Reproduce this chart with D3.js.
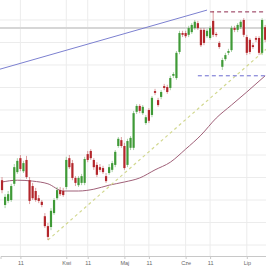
<!DOCTYPE html>
<html>
<head>
<meta charset="utf-8">
<script src="https://cdn.jsdelivr.net/npm/d3@7"></script>
<style>
  body { margin: 0; background: #fff; }
  svg { display: block; font-family: "DejaVu Sans", sans-serif; }
</style>
</head>
<body>
<div id="chart"></div>
<script>
// daily candles, oldest first: [open, high, low, close]
var candles = [
  [54.4, 55.1, 51.5, 52.2], [48.9, 51.3, 48.2, 50.7], [49.8, 52.0, 49.3, 51.3], [50.0, 53.6, 49.6, 53.1],
  [53.6, 58.0, 53.1, 57.3], [56.2, 59.3, 55.8, 58.7], [59.3, 60.0, 56.4, 56.9], [56.4, 58.7, 56.0, 58.2],
  [58.9, 59.8, 54.7, 55.1], [54.4, 55.1, 49.1, 49.8], [53.1, 53.8, 50.0, 50.4], [52.0, 52.7, 49.6, 50.0],
  [50.4, 51.1, 49.3, 49.8], [49.6, 50.0, 48.4, 48.9], [46.4, 47.1, 43.8, 44.2], [44.2, 44.9, 41.1, 41.8],
  [44.0, 48.2, 43.3, 47.6], [47.1, 50.4, 46.7, 50.0], [50.4, 52.9, 50.0, 52.2], [52.2, 52.9, 50.9, 51.3],
  [52.0, 52.7, 50.7, 51.1], [52.9, 59.6, 52.4, 58.9], [59.3, 60.0, 56.9, 57.3], [58.2, 58.9, 54.4, 54.9],
  [54.9, 55.3, 53.1, 53.8], [53.3, 55.3, 52.9, 54.9], [53.8, 55.8, 53.3, 55.3], [53.8, 59.6, 53.3, 59.1],
  [60.2, 60.9, 58.4, 58.9], [60.9, 61.3, 58.9, 59.3], [58.9, 59.3, 56.7, 57.3], [57.8, 58.4, 55.1, 55.6],
  [57.3, 58.0, 56.2, 56.7], [57.1, 57.6, 55.8, 56.2], [55.3, 56.0, 53.8, 54.2], [56.0, 58.0, 55.6, 57.3],
  [56.7, 58.7, 56.2, 58.2], [57.8, 61.1, 57.3, 60.7], [62.0, 64.0, 61.6, 63.6], [63.3, 64.0, 61.6, 62.0],
  [62.0, 62.7, 56.7, 57.1], [57.8, 63.6, 57.3, 63.1], [61.6, 64.2, 61.1, 63.8], [61.6, 69.8, 61.1, 69.3],
  [69.6, 71.3, 69.1, 70.9], [70.9, 71.3, 69.3, 69.8], [69.3, 71.1, 68.9, 70.7], [67.1, 68.9, 66.7, 68.4],
  [70.0, 70.4, 67.1, 67.6], [68.9, 73.1, 68.4, 72.7], [74.2, 74.7, 73.3, 73.8], [72.2, 72.7, 70.7, 71.1],
  [72.9, 74.4, 72.4, 74.0], [75.3, 75.8, 74.4, 74.9], [75.1, 75.6, 73.6, 74.0], [74.9, 77.6, 74.4, 77.1],
  [77.6, 78.4, 77.1, 78.0], [77.1, 83.1, 76.7, 82.7], [82.9, 87.6, 82.4, 87.1], [87.1, 87.6, 86.2, 86.7],
  [87.1, 87.6, 86.0, 86.4], [86.7, 88.7, 86.2, 88.2], [87.3, 89.3, 86.9, 88.9], [88.2, 90.0, 87.8, 89.6],
  [89.3, 89.8, 87.8, 88.2], [87.8, 88.2, 84.0, 84.4], [87.8, 88.2, 84.4, 84.9], [86.4, 88.0, 86.0, 87.6],
  [86.0, 88.7, 85.6, 88.2], [89.8, 92.0, 86.2, 86.7], [86.9, 87.3, 86.2, 86.7], [84.9, 85.3, 83.6, 84.0],
  [79.6, 81.6, 78.9, 81.1], [81.3, 82.7, 80.9, 82.2], [82.7, 83.6, 82.2, 83.1], [83.3, 88.7, 82.9, 88.2],
  [88.2, 88.7, 87.3, 87.8], [87.8, 89.3, 87.3, 88.9], [88.4, 90.0, 88.0, 89.6], [90.0, 90.4, 86.2, 86.7],
  [86.2, 86.7, 82.2, 82.7], [85.6, 86.0, 82.4, 82.9], [84.4, 84.9, 83.6, 84.0], [86.0, 86.4, 85.1, 85.6],
  [86.0, 86.4, 82.2, 82.7], [82.7, 90.4, 82.2, 90.0], [88.4, 88.9, 85.1, 85.6]
];

// x axis: candle index of each label
var tickIdx = [6, 21, 28, 40, 48, 60, 68, 80];
var tickLabels = ["11", "Kwi", "11", "Maj", "11", "Cze", "11", "Lip"];

// moving average
var maIdx = [0, 5, 10, 15, 20, 25, 30, 35, 40, 45, 50, 55, 60, 65, 70, 75, 80, 86];
var maVals = [54.0, 54.4, 54.2, 53.6, 52.0, 52.0, 52.4, 53.3, 54.0, 54.9, 56.7, 58.4, 61.3, 64.4, 68.2, 71.1, 74.0, 77.6];

// horizontal levels
var grayLevel = 88.2;
var topLevel = 91.8, topFrom = 68;
var lowLevel = 77.6, lowFrom = 64;

// trend lines: two anchor points each
var channelLine = { i1: 0, p1: 79.2, i2: 67, p2: 92.2 };
var supportLine = { i1: 15, p1: 41.1, i2: 67.3, p2: 72.2 };

var W = 266, H = 266, plotBottom = 256;

var svg = d3.select("#chart").append("svg")
  .attr("width", W)
  .attr("height", H);

var x = d3.scaleLinear()
  .domain([-0.5, candles.length - 0.5])
  .range([0.5, W + 0.7]);

var y = d3.scaleLinear()
  .domain([37.56, 94.44])
  .range([plotBottom, 0]);

svg.append("clipPath").attr("id", "plot")
  .append("rect").attr("width", W).attr("height", plotBottom);

var plot = svg.append("g").attr("clip-path", "url(#plot)");

// grid
plot.selectAll(".hgrid").data(y.ticks(10)).enter().append("line")
  .attr("x1", 0).attr("x2", W)
  .attr("y1", function(d) { return y(d); })
  .attr("y2", function(d) { return y(d); })
  .attr("stroke", "#ececec");

plot.selectAll(".vgrid").data(tickIdx).enter().append("line")
  .attr("x1", function(d) { return x(d); })
  .attr("x2", function(d) { return x(d); })
  .attr("y1", 0).attr("y2", plotBottom)
  .attr("stroke", "#ececec");

plot.append("line")
  .attr("x1", 0).attr("x2", W)
  .attr("y1", y(grayLevel)).attr("y2", y(grayLevel))
  .attr("stroke", "#d6d6d6").attr("stroke-width", 2);

// moving average
var maLine = d3.line()
  .x(function(d) { return x(d); })
  .y(function(d, k) { return y(maVals[k]); })
  .curve(d3.curveMonotoneX);

plot.append("path")
  .attr("d", maLine(maIdx))
  .attr("fill", "none")
  .attr("stroke", "#a06078")
  .attr("stroke-width", 1);

function along(t, i) {
  return t.p1 + (i - t.i1) * (t.p2 - t.p1) / (t.i2 - t.i1);
}

var left = x.invert(0), right = x.invert(W);

plot.append("line")
  .attr("x1", x(supportLine.i1)).attr("y1", y(supportLine.p1))
  .attr("x2", W).attr("y2", y(along(supportLine, right)))
  .attr("stroke", "#d2d890").attr("stroke-width", 1.2)
  .attr("stroke-dasharray", "3,3");

plot.append("line")
  .attr("x1", 0).attr("y1", y(along(channelLine, left)))
  .attr("x2", x(channelLine.i2)).attr("y2", y(channelLine.p2))
  .attr("stroke", "#7c80d0").attr("stroke-width", 1);

plot.append("line")
  .attr("x1", x(topFrom)).attr("x2", W)
  .attr("y1", y(topLevel)).attr("y2", y(topLevel))
  .attr("stroke", "#8e2a4e").attr("stroke-width", 1)
  .attr("stroke-dasharray", "4,3");

plot.append("line")
  .attr("x1", x(lowFrom)).attr("x2", W)
  .attr("y1", y(lowLevel)).attr("y2", y(lowLevel))
  .attr("stroke", "#6a6ad0").attr("stroke-width", 1)
  .attr("stroke-dasharray", "4,3");

// candles
var up = "#3f9a37", down = "#b3262b";
var c = plot.selectAll(".candle").data(candles).enter().append("g");

c.append("line")
  .attr("x1", function(d, i) { return x(i); })
  .attr("x2", function(d, i) { return x(i); })
  .attr("y1", function(d) { return y(d[1]); })
  .attr("y2", function(d) { return y(d[2]); })
  .attr("stroke", function(d) { return d[3] >= d[0] ? up : down; })
  .attr("stroke-opacity", 0.45);

c.append("rect")
  .attr("x", function(d, i) { return x(i) - 1.1; })
  .attr("width", 2.2)
  .attr("y", function(d) { return y(Math.max(d[0], d[3])); })
  .attr("height", function(d) { return Math.max(1.2, Math.abs(y(d[0]) - y(d[3]))); })
  .attr("fill", function(d) { return d[3] >= d[0] ? up : down; });

// x axis
var axis = d3.axisBottom(x)
  .tickValues(tickIdx)
  .tickFormat(function(d, k) { return tickLabels[k]; })
  .tickSize(3);

var ax = svg.append("g")
  .attr("transform", "translate(0," + plotBottom + ")")
  .call(axis);

ax.select(".domain").attr("stroke", "#c8c8c8");
ax.selectAll(".tick line").attr("stroke", "#c8c8c8");
ax.selectAll(".tick text")
  .attr("fill", "#666")
  .attr("font-size", 5.5)
  .attr("dy", "0.55em");
</script>
</body>
</html>
